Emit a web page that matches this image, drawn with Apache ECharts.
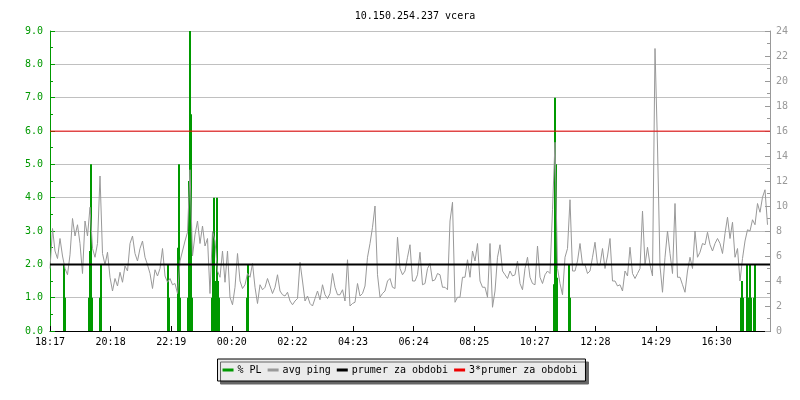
<!DOCTYPE html>
<html>
<head>
<meta charset="utf-8">
<script src="https://cdn.jsdelivr.net/npm/echarts@6/dist/echarts.min.js"></script>
<style>
  html, body { margin: 0; padding: 0; background: #fff; }
  #chart { width: 800px; height: 400px; }
</style>
</head>
<body>
<div id="chart"></div>
<script>
  // popisky casove osy (kazdych ~121 minut od 18:17)
  var timeLabels = ['18:17', '20:18', '22:19', '00:20', '02:22', '04:23', '06:24', '08:25', '10:27', '12:28', '14:29', '16:30'];
  var tickStep = 121.2;   // minut mezi popisky
  var pingStep = 5;       // minut mezi vzorky avg ping

  // avg ping [ms], pravá osa
  var avgPing = [
    5.0,8.2, 6.4,5.8, 7.4,6.0, 5.0,4.5, 6.1,9.0, 7.6,8.5, 7.0,4.6, 8.8,7.6, 9.9,6.6, 5.9,7.0,
    12.4,6.2, 5.3,6.3, 4.3,3.2, 4.2,3.6, 4.7,3.9, 5.2,4.8, 7.0,7.6, 6.2,5.6, 6.6,7.2, 5.9,5.3,
    4.6,3.4, 4.9,4.4, 5.0,6.6, 4.4,3.9, 4.2,3.7, 3.8,3.0, 5.6,6.4, 7.2,7.9,
    12.9,6.0, 7.7,8.8, 7.0,8.4, 6.8,7.4, 3.0,8.0, 7.2,4.8, 4.3,6.4, 3.9,6.4, 2.7,2.1, 3.5,6.2,
    4.0,3.4, 3.7,4.6, 4.3,5.4, 3.5,2.2, 3.7,3.3, 3.5,4.2, 3.6,3.0, 3.5,4.5, 3.2,2.9, 2.8,3.1,
    2.4,2.1, 2.4,2.6, 5.5,4.0, 2.4,2.8, 2.2,2.0, 2.6,3.2, 2.5,3.7, 2.9,2.6,
    3.0,4.6, 3.5,2.9, 2.9,3.3, 2.4,5.7, 2.0,2.2, 2.3,3.8, 2.8,3.0, 3.6,5.9, 7.0,8.3, 10.0,4.5,
    2.7,3.0, 3.2,4.0, 4.2,3.5, 3.4,7.5, 5.0,4.5, 4.8,5.9, 6.9,4.0, 4.0,4.5, 6.3,3.7, 3.8,5.0,
    5.4,4.0, 4.1,4.6, 4.5,3.5, 3.5,3.3, 8.8,10.3, 2.3,2.7, 2.7,4.3, 4.3,5.7,
    4.3,6.4, 5.6,7.0, 4.0,3.5, 3.5,2.7, 7.0,1.9, 3.2,5.9, 6.9,4.8, 4.5,4.2, 4.8,4.4, 4.5,5.6,
    3.8,3.3, 5.0,5.9, 4.3,3.8, 3.7,6.8, 4.3,3.8, 4.5,4.8, 4.6,9.7, 15.1,5.0, 3.8,2.9, 5.9,6.6,
    10.5,4.8, 4.8,5.6, 7.0,5.3, 5.3,4.6, 4.8,5.9, 7.1,5.3, 5.3,6.6, 5.0,6.0,
    7.4,4.0, 4.0,3.6, 3.7,3.2, 4.8,4.4, 6.7,4.6, 4.2,4.6, 5.0,9.6, 5.3,6.7, 5.3,4.4, 22.6,14.8,
    5.2,3.1, 5.9,8.0, 6.2,4.6, 10.2,4.3, 4.3,3.7, 3.1,4.8, 5.9,5.0, 8.0,5.9, 6.3,7.0, 6.9,7.9,
    6.9,6.4, 7.0,7.4, 7.0,6.2, 7.8,9.1, 7.4,8.7, 5.9,6.6, 4.0,5.8, 7.2,8.1, 8.0,8.9, 8.5,10.2,
    9.5,10.7, 11.3,8.5
  ];

  // % PL, leva osa: minuty od zacatku a hodnota
  var plTimes  = [28, 30, 78, 80, 82, 84, 100, 102, 236, 238, 256, 258, 260,
                  276, 278, 280, 282, 284, 324, 326, 328, 330, 332, 334, 336, 338,
                  394, 396, 1008, 1010, 1012, 1014, 1038, 1040,
                  1382, 1384, 1386, 1394, 1396, 1398, 1400, 1402, 1408, 1410];
  var plValues = [2.0, 1.0, 1.0, 2.4, 5.0, 1.0, 1.0, 2.0, 2.0, 1.0, 2.5, 5.0, 1.0,
                  1.0, 4.5, 9.0, 6.5, 1.0, 1.0, 3.0, 4.0, 1.5, 1.5, 4.0, 1.5, 1.0,
                  1.0, 2.0, 1.4, 7.0, 5.0, 1.6, 2.0, 1.0,
                  1.0, 1.5, 1.0, 2.0, 1.0, 1.0, 2.0, 1.0, 1.0, 2.0];

  var pingMean = 5.33;   // prumer za obdobi [ms]
  var totalMinutes = 1440;

  var font = 'DejaVu Sans Mono';
  var chart = echarts.init(document.getElementById('chart'));

  var pingData = avgPing.map(function (v, i) { return [i * pingStep, v]; });
  var plData = plTimes.map(function (t, i) { return [t, plValues[i]]; });

  chart.setOption({
    animation: false,
    backgroundColor: '#fff',
    title: {
      text: '10.150.254.237 vcera',
      left: 410, top: 6, textAlign: 'center',
      textStyle: { fontFamily: font, fontSize: 10, fontWeight: 'normal', color: '#000' }
    },
    legend: {
      left: 'center', top: 359,
      padding: [6, 8, 6, 5],
      itemGap: 6, itemWidth: 11, itemHeight: 3,
      backgroundColor: '#ebebeb',
      borderColor: '#000', borderWidth: 1, borderRadius: 0,
      shadowColor: '#666', shadowBlur: 0, shadowOffsetX: 3, shadowOffsetY: 3,
      textStyle: { fontFamily: font, fontSize: 10, color: '#000', padding: [0, 0, 0, -1] },
      data: [
        { name: '% PL', icon: 'rect' },
        { name: 'avg ping', icon: 'rect' },
        { name: 'prumer za obdobi', icon: 'rect' },
        { name: '3*prumer za obdobi', icon: 'rect' }
      ]
    },
    grid: { left: 50, right: 30, top: 31, bottom: 69 },
    xAxis: {
      type: 'value', min: 0, max: totalMinutes, interval: tickStep,
      axisLine: { lineStyle: { color: '#000', width: 1 } },
      axisTick: { inside: true, length: 5, lineStyle: { color: '#000' } },
      axisLabel: {
        fontFamily: font, fontSize: 10, color: '#000', margin: 6, showMaxLabel: false,
        formatter: function (v) {
          var i = Math.round(v / tickStep);
          if (Math.abs(v - i * tickStep) > 1 || i >= timeLabels.length) return '';
          return timeLabels[i];
        }
      },
      splitLine: { show: false }
    },
    yAxis: [
      {
        type: 'value', min: 0, max: 9, interval: 1, position: 'left',
        axisLine: { show: true, lineStyle: { color: '#009900' } },
        axisTick: { show: true, inside: true, length: 5, lineStyle: { color: '#009900' } },
        minorTick: { show: true, splitNumber: 2, length: 3, lineStyle: { color: '#009900' } },
        axisLabel: {
          fontFamily: font, fontSize: 10, color: '#009900', margin: 7,
          formatter: function (v) { return v.toFixed(1); }
        },
        splitLine: { show: true, lineStyle: { color: '#c0c0c0', width: 1 } }
      },
      {
        type: 'value', min: 0, max: 24, interval: 2, position: 'right',
        axisLine: { show: true, lineStyle: { color: '#999' } },
        axisTick: { show: true, inside: true, length: 5, lineStyle: { color: '#999' } },
        minorTick: { show: true, splitNumber: 2, length: 3, lineStyle: { color: '#999' } },
        axisLabel: { fontFamily: font, fontSize: 10, color: '#999', margin: 6 },
        splitLine: { show: false }
      }
    ],
    series: [
      {
        name: '% PL', type: 'bar', yAxisIndex: 0,
        barWidth: 2, color: '#009900',
        itemStyle: { color: '#009900' },
        data: plData, z: 2
      },
      {
        name: 'avg ping', type: 'line', yAxisIndex: 1,
        showSymbol: false, symbol: 'none', color: '#999',
        lineStyle: { color: '#999', width: 1 },
        data: pingData, z: 3
      },
      {
        name: 'prumer za obdobi', type: 'line', yAxisIndex: 1,
        showSymbol: false, symbol: 'none', color: '#000',
        lineStyle: { color: '#000', width: 2 },
        data: [[0, pingMean], [totalMinutes, pingMean]], z: 4
      },
      {
        name: '3*prumer za obdobi', type: 'line', yAxisIndex: 1,
        showSymbol: false, symbol: 'none', color: '#ee0000',
        lineStyle: { color: '#ee0000', width: 1 },
        data: [[0, 3 * pingMean], [totalMinutes, 3 * pingMean]], z: 4
      }
    ]
  });
</script>
</body>
</html>
